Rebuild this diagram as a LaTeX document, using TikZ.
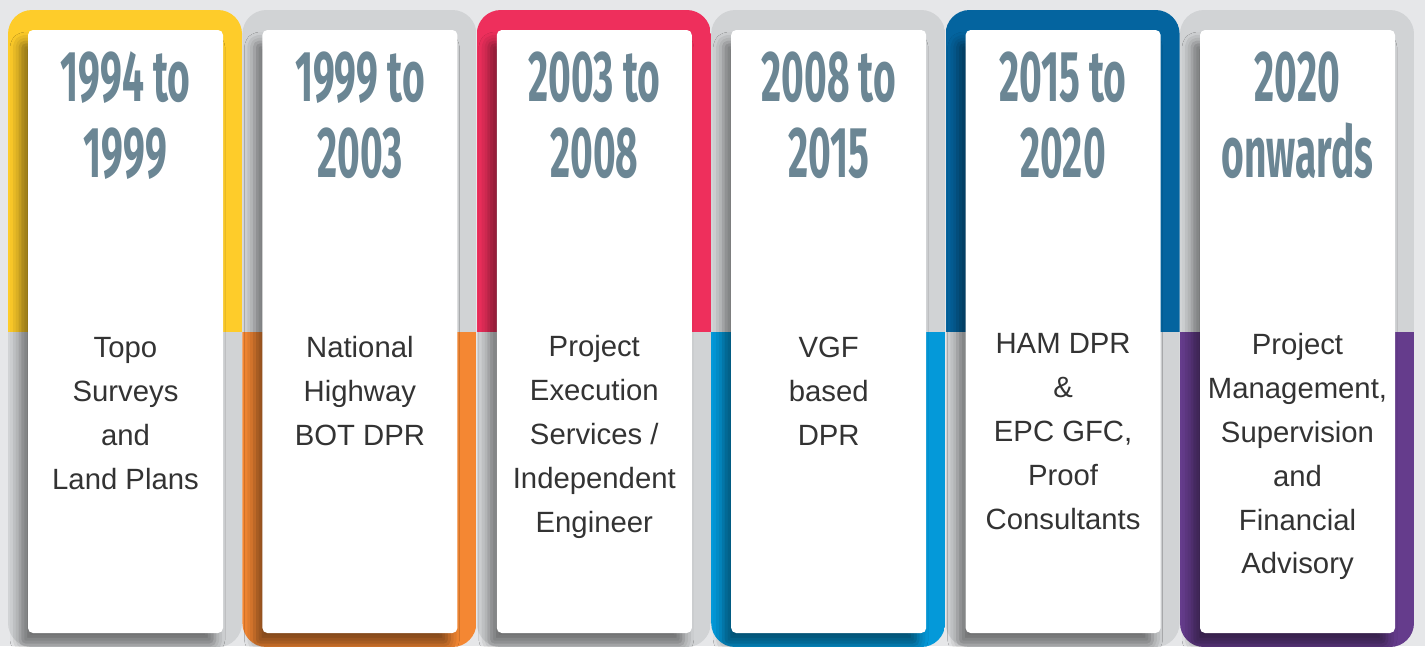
\documentclass[tikz,border=0pt]{standalone}
\usepackage{fontspec}
\setmainfont{Liberation Sans}
\newfontfamily\yearfont[FakeStretch=0.54]{Fira Sans}
\usetikzlibrary{shadows.blur,calc}
\definecolor{bgcol}{HTML}{E6E7E9}
\definecolor{framegray}{HTML}{D1D3D5}
\definecolor{cyellow}{HTML}{FECC2A}
\definecolor{corange}{HTML}{F48733}
\definecolor{cred}{HTML}{EE2F5C}
\definecolor{clblue}{HTML}{0499D9}
\definecolor{cdblue}{HTML}{04649F}
\definecolor{cpurple}{HTML}{653C8C}
\definecolor{yeartext}{HTML}{6B8694}
\definecolor{bodytext}{HTML}{333333}
\tikzset{
  card/.style={fill=white, rounded corners=5pt, minimum width=195pt, minimum height=603pt,
    inner sep=0pt,
    blur shadow={shadow xshift=-8pt, shadow yshift=-12pt, shadow blur radius=10pt, shadow opacity=45}},
  yearlbl/.style={anchor=base, align=center, inner sep=0pt, text=yeartext,
    font=\yearfont\bfseries\fontsize{72}{76}\selectfont},
  bodylbl/.style={anchor=base, align=center, inner sep=0pt, text=bodytext,
    font=\fontsize{29.3}{43.8}\selectfont},
}
% #1 index, #2 left x, #3 top colour, #4 bottom colour, #5 years, #6 body,
% #7 offset of the body's last baseline below the card top
\newcommand\tlcolumn[7]{%
  \begin{scope}
    \clip[rounded corners=24pt] (#2,10) rectangle ++(234,637);
    \fill[#3] (#2,10) rectangle ++(234,322);
    \fill[#4] (#2,332) rectangle ++(234,315);
  \end{scope}
  \node[card] (card#1) at (#2+117.5,331.5) {};
  \node[yearlbl] (year#1) at ($(card#1.north)+(0,148)$) {#5};
  \node[bodylbl] (body#1) at ($(card#1.north)+(0,#7)$) {#6};
}
\begin{document}
\begin{tikzpicture}[x=1pt,y=-1pt]
\useasboundingbox (0,0) rectangle (1425,646);
\fill[bgcol] (0,0) rectangle (1425,646);
\tlcolumn{1}{8}{cyellow}{framegray}{1994 to\\1999}{Topo\\Surveys\\and\\Land Plans}{459.4}
\tlcolumn{2}{242.4}{framegray}{corange}{1999 to\\2003}{National\\Highway\\BOT DPR}{415.6}
\tlcolumn{3}{476.8}{cred}{framegray}{2003 to\\2008}{Project\\Execution\\Services /\\Independent\\Engineer}{502.2}
\tlcolumn{4}{711.2}{framegray}{clblue}{2008 to\\2015}{VGF\\based\\DPR}{415.6}
\tlcolumn{5}{945.6}{cdblue}{framegray}{2015 to\\2020}{HAM DPR\\\&\\EPC GFC,\\Proof\\Consultants}{499.2}
\tlcolumn{6}{1180}{framegray}{cpurple}{2020\\onwards}{Project\\Management,\\Supervision\\and\\Financial\\Advisory}{544}
\end{tikzpicture}
\end{document}
